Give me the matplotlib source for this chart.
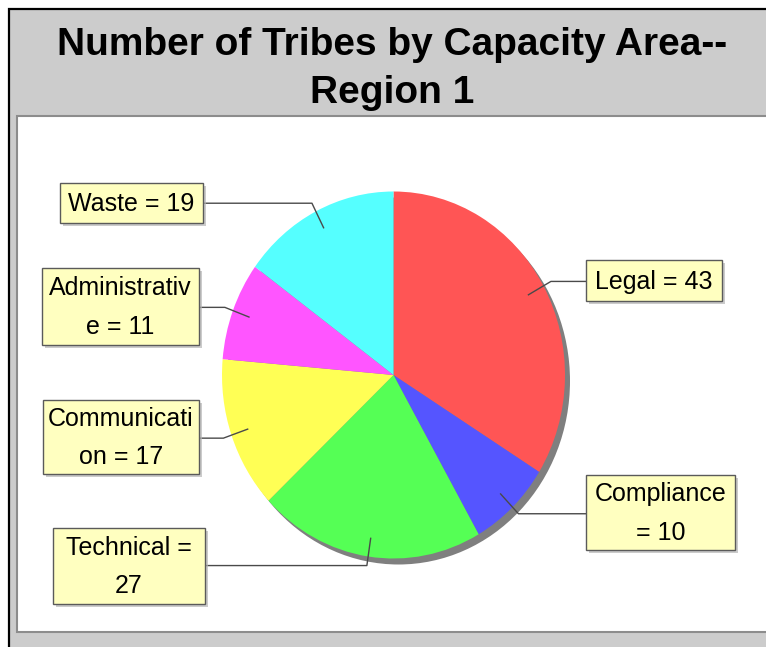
import matplotlib
matplotlib.use("Agg")
import matplotlib.pyplot as plt
from matplotlib.patches import Rectangle, Ellipse
from matplotlib.font_manager import FontProperties
import numpy as np

# tribes per capacity area, region 1
areas = ["Legal", "Compliance", "Technical", "Communication", "Administrative", "Waste"]
tribes = [43, 10, 27, 17, 11, 19]
colors = ["#ff5555", "#5555ff", "#55ff55", "#ffff55", "#ff55ff", "#55ffff"]
title = "Number of Tribes by Capacity Area--\nRegion 1"

W, H = 766, 647
FAMILY = ["Liberation Sans", "DejaVu Sans"]

fig = plt.figure(figsize=(W / 100, H / 100), dpi=100)
fig.patch.set_facecolor("white")


def pixel_axes(fig):
    # full-canvas axes in pixel units, y pointing down
    ax = fig.add_axes([0, 0, 1, 1])
    ax.set_xlim(0, W)
    ax.set_ylim(H, 0)
    ax.axis("off")
    return ax


bg = pixel_axes(fig)
bg.add_patch(Rectangle((9, 9), W, H, facecolor="#cccccc", edgecolor="black", lw=1.6))
bg.add_patch(Rectangle((17, 116), W, 516, facecolor="white", edgecolor="#8c8c8c", lw=1.5))

# title, one baseline per line
for i, line in enumerate(title.split("\n")):
    bg.text(392, 55 + 48 * i, line, ha="center", va="baseline", fontsize=28,
            fontweight="bold", family=FAMILY, color="black")

# pie: slightly elliptical, centred at (cx, cy) in pixels
cx, cy, rx, ry = 393.5, 375.0, 171.5, 183.5
pad = 1.1
pie_ax = fig.add_axes([(cx - pad * rx) / W, 1 - (cy + pad * ry) / H,
                       2 * pad * rx / W, 2 * pad * ry / H])
pie_ax.add_patch(Ellipse((5 / rx, -6 / ry), 2, 2, facecolor="#7f7f7f", lw=0))
wedges, _ = pie_ax.pie(tribes, colors=colors, startangle=90, counterclock=False,
                       wedgeprops=dict(linewidth=0))
pie_ax.set_aspect("auto")
pie_ax.set_xlim(-pad, pad)
pie_ax.set_ylim(-pad, pad)
pie_ax.axis("off")

# links and label boxes go on top of the pie
top = pixel_axes(fig)

# label boxes: left, top, width, height (pixels)
boxes = [(586, 260, 136, 41), (586, 475, 149, 75), (53, 528, 152, 76),
         (43, 400, 156, 74), (42, 268, 157, 77), (60, 183, 143, 40)]

prop = FontProperties(family=FAMILY, size=18)
renderer = fig.canvas.get_renderer()


def width_px(s):
    return renderer.get_text_width_height_descent(s, prop, ismath=False)[0]


def wrap(text, max_w=150):
    lines, cur = [], ""
    words = text.split(" ")
    while words:
        word = words.pop(0)
        trial = word if not cur else cur + " " + word
        if width_px(trial) <= max_w:
            cur = trial
        elif cur:
            lines.append(cur)
            cur = ""
            words.insert(0, word)
        else:
            # word alone is too wide: split it
            k = len(word)
            while k > 1 and width_px(word[:k]) > max_w:
                k -= 1
            lines.append(word[:k])
            words.insert(0, word[k:])
    if cur:
        lines.append(cur)
    return "\n".join(lines)


def rim_point(angle, r):
    a = np.radians(angle)
    return cx + r * rx * np.cos(a), cy - r * ry * np.sin(a)


for w, name, val, (bx, by, bw, bh) in zip(wedges, areas, tribes, boxes):
    mid = (w.theta1 + w.theta2) / 2
    x0, y0 = rim_point(mid, 0.9)
    x1, y1 = rim_point(mid, 1.05)
    edge = bx if bx > cx else bx + bw
    top.plot([x0, x1, edge], [y0, y1, y1], color="#4a4a4a", lw=1.0, zorder=3)

    top.add_patch(Rectangle((bx + 3, by + 3), bw, bh, facecolor="#b5b5b5",
                            lw=0, alpha=0.7, zorder=4))
    top.add_patch(Rectangle((bx, by), bw, bh, facecolor="#ffffc0",
                            edgecolor="#5a5a5a", lw=1.0, zorder=5))
    top.text(bx + bw / 2, by + bh / 2 + 1, wrap(f"{name} = {val}"), ha="center",
             va="center", multialignment="center", fontproperties=prop,
             linespacing=1.74, color="black", zorder=6)

fig.savefig("out.png", dpi=100, facecolor=fig.get_facecolor())
